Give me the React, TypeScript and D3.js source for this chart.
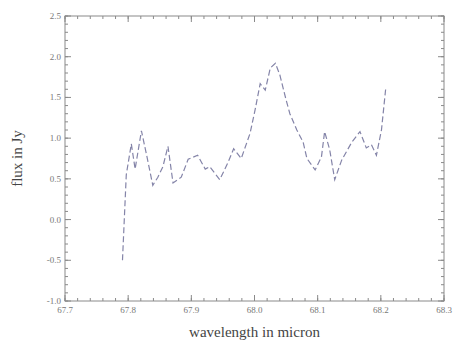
import React from "react";
import * as d3 from "d3";

const wavelengths = [
  67.791, 67.797, 67.805, 67.811, 67.821, 67.829, 67.839, 67.847, 67.855, 67.863,
  67.871, 67.884, 67.895, 67.91, 67.922, 67.929, 67.945, 67.958, 67.967, 67.979,
  67.993, 68.001, 68.009, 68.017, 68.025, 68.033, 68.04, 68.05, 68.056, 68.067,
  68.077, 68.083, 68.096, 68.106, 68.111, 68.119, 68.127, 68.138, 68.154, 68.167,
  68.177, 68.185, 68.193, 68.201, 68.208,
];
const flux = [
  -0.5, 0.55, 0.93, 0.62, 1.09, 0.8, 0.42, 0.52, 0.65, 0.9,
  0.45, 0.52, 0.74, 0.79, 0.62, 0.65, 0.49, 0.7, 0.87, 0.75,
  1.06, 1.35, 1.67, 1.59, 1.86, 1.92, 1.78, 1.47, 1.3, 1.1,
  0.95, 0.75, 0.61, 0.77, 1.08, 0.86, 0.49, 0.73, 0.95, 1.08,
  0.88, 0.92, 0.79, 1.1, 1.63,
];
const xTicks = [67.7, 67.8, 67.9, 68.0, 68.1, 68.2, 68.3];
const yTicks = [-1.0, -0.5, 0.0, 0.5, 1.0, 1.5, 2.0, 2.5];

const W = 457, H = 343;
const L = 65, R = 444, T = 16, B = 301;

export default function App() {
  const x = d3.scaleLinear().domain([67.7, 68.3]).range([L, R]);
  const y = d3.scaleLinear().domain([-1, 2.5]).range([B, T]);
  const line = d3.line<number>().x((_, i) => x(wavelengths[i])).y((d) => y(d));
  const xMinor = d3.range(0, 31).map((i) => 67.7 + i * 0.02);
  const yMinor = d3.range(0, 36).map((i) => -1 + i * 0.1);
  const axisColor = "#8a8a8a";
  const textColor = "#777";
  return (
    <svg width={W} height={H} style={{ position: "absolute", left: 0, top: 0, background: "#fff" }}>
      <rect x={L} y={T} width={R - L} height={B - T} fill="none" stroke={axisColor} strokeWidth={1} />
      {xMinor.map((v, i) => (
        <g key={"xm" + i} stroke={axisColor}>
          <line x1={x(v)} x2={x(v)} y1={B} y2={B - 3} />
          <line x1={x(v)} x2={x(v)} y1={T} y2={T + 3} />
        </g>
      ))}
      {xTicks.map((v, i) => (
        <g key={"xt" + i}>
          <line x1={x(v)} x2={x(v)} y1={B} y2={B - 6} stroke={axisColor} />
          <line x1={x(v)} x2={x(v)} y1={T} y2={T + 6} stroke={axisColor} />
          <text x={x(v)} y={B + 12} textAnchor="middle" fontFamily="Liberation Serif" fontSize={9} fill={textColor}>
            {v.toFixed(1)}
          </text>
        </g>
      ))}
      {yMinor.map((v, i) => (
        <g key={"ym" + i} stroke={axisColor}>
          <line x1={L} x2={L + 3} y1={y(v)} y2={y(v)} />
          <line x1={R} x2={R - 3} y1={y(v)} y2={y(v)} />
        </g>
      ))}
      {yTicks.map((v, i) => (
        <g key={"yt" + i}>
          <line x1={L} x2={L + 6} y1={y(v)} y2={y(v)} stroke={axisColor} />
          <line x1={R} x2={R - 6} y1={y(v)} y2={y(v)} stroke={axisColor} />
          <text x={L - 4} y={y(v) + 3} textAnchor="end" fontFamily="Liberation Serif" fontSize={9} fill={textColor}>
            {v.toFixed(1)}
          </text>
        </g>
      ))}
      <path d={line(flux) || ""} fill="none" stroke="#8484a8" strokeWidth={1.2} strokeDasharray="6,3" />
      <text x={(L + R) / 2} y={337} textAnchor="middle" fontFamily="Liberation Serif" fontSize={15} fill="#444">
        wavelength in micron
      </text>
      <text transform={`translate(22,${(T + B) / 2}) rotate(-90)`} textAnchor="middle" fontFamily="Liberation Serif" fontSize={15} fill="#444">
        flux in Jy
      </text>
    </svg>
  );
}
